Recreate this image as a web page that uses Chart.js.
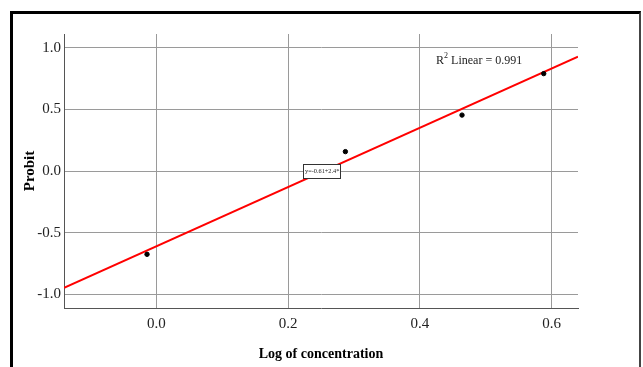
<!DOCTYPE html>
<html>
<head>
<meta charset="utf-8">
<script src="https://cdn.jsdelivr.net/npm/chart.js@4"></script>
<style>
  html, body { margin: 0; padding: 0; background: #fff; }
  #frame {
    position: absolute; left: 10px; top: 11px; width: 626px; height: 400px;
    border-left: 3px solid #000; border-top: 3px solid #000; border-right: 2px solid #444;
  }
  #chart { position: absolute; left: 0; top: 0; }
</style>
</head>
<body>
<div id="frame"></div>
<canvas id="chart" width="643" height="367"></canvas>
<script>
// observed points (log concentration vs probit)
const pointX = [-0.014, 0.287, 0.464, 0.588];
const pointY = [-0.675, 0.157, 0.453, 0.789];

// fitted line as read at the plot edges
const fitX = [-0.14, 0.64];
const fitY = [-0.946, 0.926];

const xTicks = [0.0, 0.2, 0.4, 0.6];
const yTicks = [-1.0, -0.5, 0.0, 0.5, 1.0];

const rSquaredText = ' Linear = 0.991';
const equationText = 'y=-0.61+2.4*x';
const rSquaredPos = { x: 0.49, y: 0.89 };
const equationPos = { x: 0.25, y: -0.004 };

const serif = "'Liberation Serif', 'Times New Roman', serif";

const labels = {
  id: 'labels',
  afterDatasetsDraw(chart) {
    const { ctx, scales: { x, y } } = chart;
    ctx.save();

    // R² Linear label
    const rx = x.getPixelForValue(rSquaredPos.x);
    const ry = y.getPixelForValue(rSquaredPos.y);
    ctx.fillStyle = '#222';
    ctx.textBaseline = 'middle';
    ctx.font = `12px ${serif}`;
    const wR = ctx.measureText('R').width;
    const wRest = ctx.measureText(rSquaredText).width;
    ctx.font = `8px ${serif}`;
    const w2 = ctx.measureText('2').width;
    let sx = rx - (wR + w2 + wRest) / 2;
    ctx.font = `12px ${serif}`;
    ctx.textAlign = 'left';
    ctx.fillText('R', sx, ry);
    ctx.font = `8px ${serif}`;
    ctx.fillText('2', sx + wR, ry - 5);
    ctx.font = `12px ${serif}`;
    ctx.fillText(rSquaredText, sx + wR + w2, ry);

    // equation box (text clipped like the original)
    const ex = x.getPixelForValue(equationPos.x);
    const ey = y.getPixelForValue(equationPos.y);
    const bw = 37, bh = 14;
    const bx = Math.round(ex - bw / 2) + 0.5, by = Math.round(ey - bh / 2) + 0.5;
    ctx.fillStyle = '#fff';
    ctx.fillRect(bx, by, bw, bh);
    ctx.strokeStyle = '#333';
    ctx.lineWidth = 1;
    ctx.strokeRect(bx, by, bw, bh);
    ctx.beginPath();
    ctx.rect(bx + 1, by + 1, bw - 2, bh - 2);
    ctx.clip();
    ctx.fillStyle = '#222';
    ctx.font = `6.3px ${serif}`;
    ctx.fillText(equationText, bx + 1.5, ey);

    ctx.restore();
  },
};

new Chart(document.getElementById('chart'), {
  type: 'scatter',
  data: {
    datasets: [
      {
        label: 'Fit',
        type: 'line',
        data: fitX.map((v, i) => ({ x: v, y: fitY[i] })),
        borderColor: '#ff0000',
        borderWidth: 2,
        pointRadius: 0,
        fill: false,
        order: 2,
      },
      {
        label: 'Probit',
        data: pointX.map((v, i) => ({ x: v, y: pointY[i] })),
        backgroundColor: '#000',
        borderColor: '#000',
        pointRadius: 2.2,
        order: 1,
      },
    ],
  },
  options: {
    responsive: false,
    animation: false,
    devicePixelRatio: 1,
    layout: { padding: { left: 14, right: 65, top: 34, bottom: 0 } },
    plugins: { legend: { display: false }, tooltip: { enabled: false } },
    scales: {
      x: {
        type: 'linear',
        min: -0.14,
        max: 0.64,
        afterBuildTicks: s => { s.ticks = xTicks.map(v => ({ value: v })); },
        afterFit: s => { s.height = 59; },
        grid: { color: '#9a9a9a', drawTicks: false },
        border: { color: '#555', width: 1 },
        ticks: { color: '#222', padding: 7, font: { family: serif, size: 15 }, callback: v => v.toFixed(1) },
        title: {
          display: true,
          text: 'Log of concentration',
          color: '#000',
          font: { family: serif, size: 14, weight: 'bold' },
          padding: { top: 0, bottom: 4 },
        },
      },
      y: {
        min: -1.11,
        max: 1.11,
        afterBuildTicks: s => { s.ticks = yTicks.map(v => ({ value: v })); },
        afterFit: s => { s.width = 50; },
        grid: { color: '#9a9a9a', drawTicks: false },
        border: { color: '#555', width: 1 },
        ticks: { color: '#222', padding: 3, font: { family: serif, size: 15 }, callback: v => v.toFixed(1) },
        title: {
          display: true,
          text: 'Probit',
          color: '#000',
          font: { family: serif, size: 15, weight: 'bold' },
          padding: { top: 7, bottom: 0 },
        },
      },
    },
  },
  plugins: [labels],
});
</script>
</body>
</html>
